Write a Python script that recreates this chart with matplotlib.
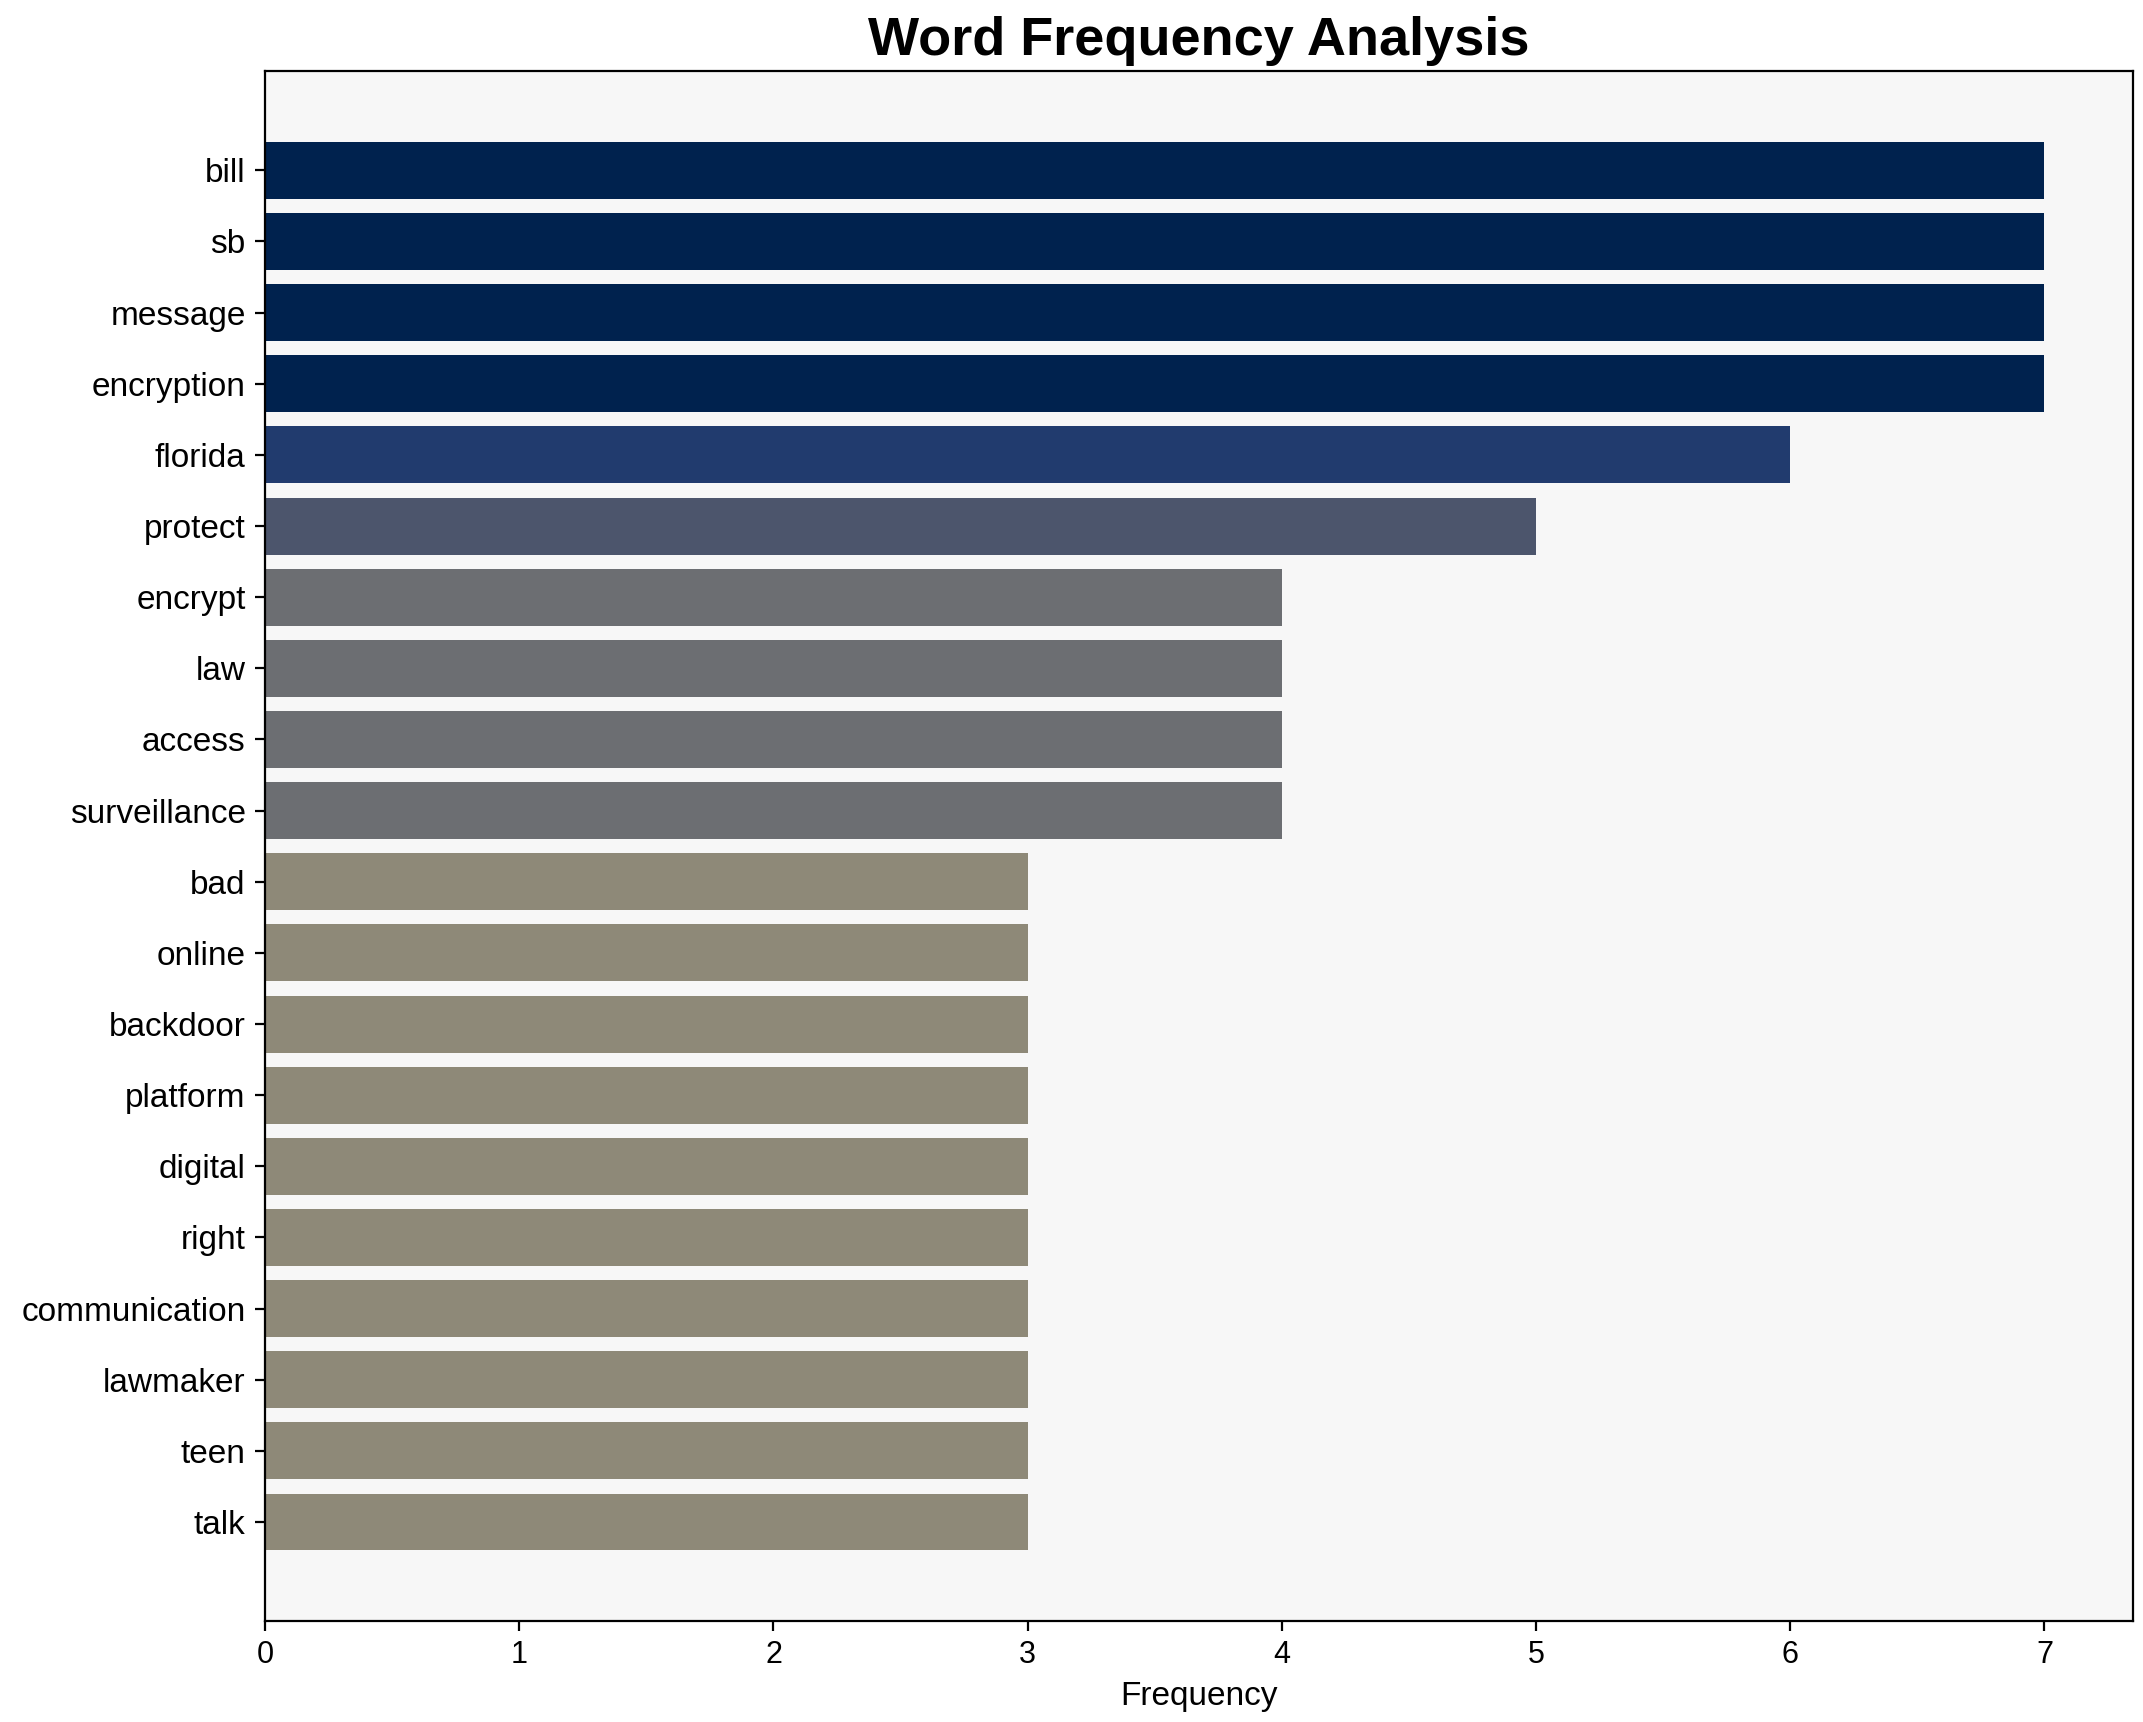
import matplotlib.pyplot as plt
import numpy as np

plt.rcParams['font.family'] = ['Liberation Sans', 'DejaVu Sans']

# palabras y frecuencias
words = ['bill', 'sb', 'message', 'encryption', 'florida', 'protect', 'encrypt',
         'law', 'access', 'surveillance', 'bad', 'online', 'backdoor', 'platform',
         'digital', 'right', 'communication', 'lawmaker', 'teen', 'talk']
counts = [7, 7, 7, 7, 6, 5, 4, 4, 4, 4, 3, 3, 3, 3, 3, 3, 3, 3, 3, 3]

fig, ax = plt.subplots(figsize=(10.715, 8.61), dpi=200)
ax.set_facecolor('#f7f7f7')

max_count = max(counts)
colors = [plt.cm.cividis(1 - c / max_count) for c in counts]

ax.barh(words, counts, color=colors)
ax.invert_yaxis()

ax.set_xlabel('Frequency', fontsize=12)
ax.set_title('Word Frequency Analysis', fontsize=19.5, fontweight='bold')
ax.tick_params(axis='y', labelsize=12)
ax.tick_params(axis='x', labelsize=11)

plt.subplots_adjust(left=0.1237, right=0.9955, top=0.9585, bottom=0.0587)
plt.savefig('out.png')
